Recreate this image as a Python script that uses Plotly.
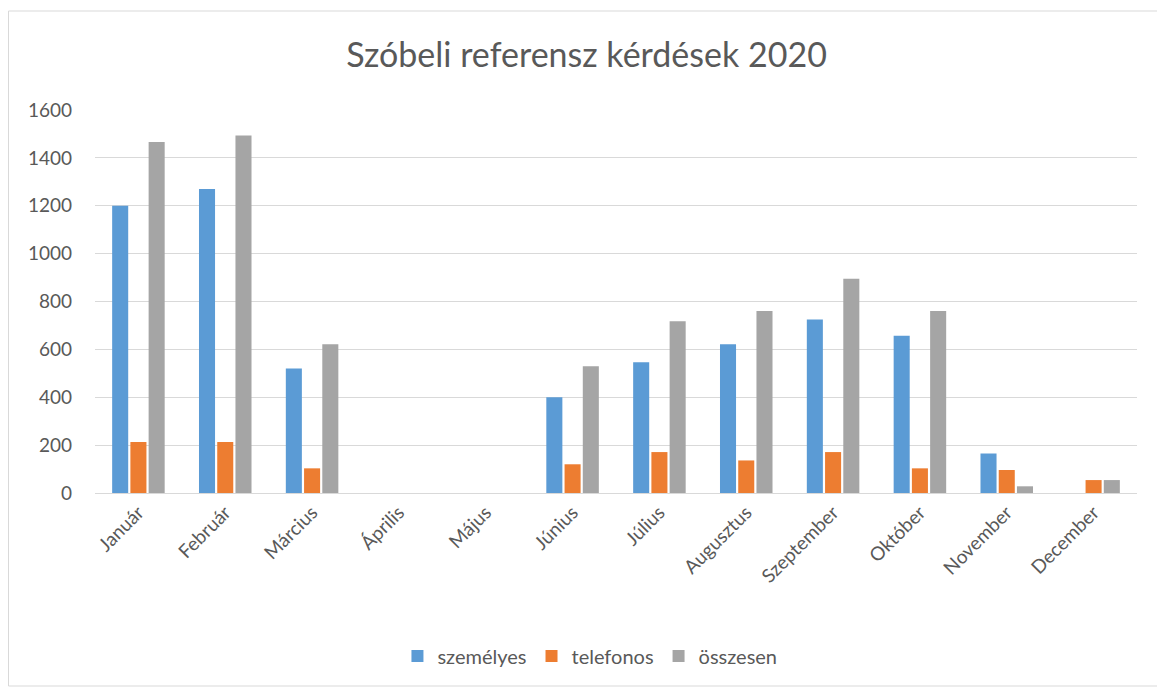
import plotly.graph_objects as go

months = ["Január", "Február", "Március", "Április", "Május", "Június",
          "Július", "Augusztus", "Szeptember", "Október", "November", "December"]
szemelyes = [1200, 1270, 520, None, None, 400, 546, 621, 725, 657, 165, None]
telefonos = [213, 213, 103, None, None, 120, 171, 136, 171, 103, 96, 54]
osszesen = [1466, 1493, 621, None, None, 530, 718, 760, 895, 760, 28, 54]
y_ticks = [0, 200, 400, 600, 800, 1000, 1200, 1400, 1600]

series = [("személyes", szemelyes, "#5b9bd5"),
          ("telefonos", telefonos, "#ed7d31"),
          ("összesen", osszesen, "#a5a5a5")]

FONT = "Lato"
GRAY = "#595959"

# page has an 8px body margin; figure drawn at 1157x680
W, H = 1157, 680
fig = go.Figure()
for name, vals, col in series:
    fig.add_trace(go.Bar(name=name, x=months, y=vals, marker_color=col,
                         marker_line_width=0))

fig.update_layout(
    width=W, height=H,
    paper_bgcolor="white", plot_bgcolor="white",
    margin=dict(l=87, r=28, t=102, b=195),
    barmode="group", bargap=0.37, bargroupgap=0.12,
    title=dict(text="Szóbeli referensz kérdések 2020", x=0.5, xanchor="center",
               y=1 - 47 / H, yanchor="middle",
               font=dict(family=FONT, size=34, color=GRAY)),
    font=dict(family=FONT, size=19, color=GRAY),
    legend=dict(orientation="h", x=0.475, xanchor="center", y=-0.4256,
                yanchor="middle", font=dict(family=FONT, size=20, color=GRAY),
                itemwidth=30, traceorder="normal"),
    showlegend=True,
)
fig.update_xaxes(tickangle=-45, showgrid=False, showline=True,
                 linecolor="#d9d9d9", linewidth=1, ticks="",
                 tickfont=dict(family=FONT, size=19, color=GRAY))
fig.update_yaxes(range=[0, 1600], tickvals=y_ticks, showgrid=True,
                 gridcolor="#d9d9d9", gridwidth=1, zeroline=False,
                 showline=False, ticklabelstandoff=22,
                 tickfont=dict(family=FONT, size=19, color=GRAY))

fig.add_shape(type="rect", xref="paper", yref="paper",
              x0=(8.5 - 95) / 1042, x1=(1163 - 95) / 1042,
              y0=(493 - 686) / 383, y1=(493 - 11) / 383,
              line=dict(color="#d9d9d9", width=1), fillcolor="rgba(0,0,0,0)",
              layer="below")

fig.write_html("out.html")
